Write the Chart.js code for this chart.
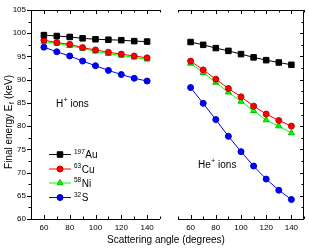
<!DOCTYPE html>
<html>
<head>
<meta charset="utf-8">
<script src="https://cdn.jsdelivr.net/npm/chart.js@4.4.1/dist/chart.umd.min.js"></script>
<style>
    body { margin: 0; background: #fff; }
    #wrap { position: relative; width: 309px; height: 251px; }
    #left { position: absolute; left: 0; top: 0; }
    #right { position: absolute; left: 165px; top: 0; }
</style>
</head>
<body>
<div id="wrap">
    <canvas id="left" width="309" height="251"></canvas>
    <canvas id="right" width="144" height="251"></canvas>
</div>
<script>
const angles = [60, 70, 80, 90, 100, 110, 120, 130, 140];

// H+ ions (left panel)
const hAu = [99.6, 99.4, 99.2, 98.9, 98.7, 98.6, 98.5, 98.3, 98.2];
const hCu = [98.5, 98.0, 97.6, 96.9, 96.4, 95.9, 95.5, 95.1, 94.7];
const hNi = [98.2, 97.8, 97.3, 96.7, 96.1, 95.6, 95.2, 94.8, 94.4];
const hS = [97.0, 96.0, 95.1, 94.0, 93.0, 92.0, 91.1, 90.3, 89.7];

// He+ ions (right panel)
const heAu = [98.1, 97.5, 96.8, 96.2, 95.5, 94.8, 94.2, 93.7, 93.2];
const heCu = [94.0, 92.1, 90.1, 88.1, 86.3, 84.3, 82.6, 81.2, 80.0];
const heNi = [93.5, 91.5, 89.4, 87.3, 85.3, 83.3, 81.3, 80.0, 78.5];
const heS = [88.3, 84.9, 81.4, 77.8, 74.5, 71.4, 68.6, 66.2, 64.2];

const xTicks = [60, 80, 100, 120, 140];
const yTicks = [60, 65, 70, 75, 80, 85, 90, 95, 100, 105];

const series = [
    { iso: "197", el: "Au", color: "#000000", edge: "#000000", style: "rect", r: 3.9 },
    { iso: "63", el: "Cu", color: "#ff0000", edge: "#c00000", style: "circle", r: 3 },
    { iso: "58", el: "Ni", color: "#00ff00", edge: "#00c000", style: "triangle", r: 3.5 },
    { iso: "32", el: "S", color: "#0000ff", edge: "#0000c0", style: "circle", r: 3 }
];

const FONT = "'Liberation Sans', Arial, sans-serif";

function makeDatasets(lists) {
    return lists.map((vals, i) => ({
        label: series[i].el,
        data: angles.map((a, j) => ({ x: a, y: vals[j] })),
        borderColor: series[i].color,
        backgroundColor: series[i].color,
        pointBorderColor: series[i].edge,
        pointBackgroundColor: series[i].color,
        pointStyle: series[i].style,
        pointRadius: series[i].r,
        pointBorderWidth: 1,
        borderWidth: 1,
        tension: 0
    }));
}

function supText(ctx, x, y, sup, main, size) {
    ctx.textAlign = "left";
    ctx.textBaseline = "alphabetic";
    ctx.font = (size * 0.65) + "px " + FONT;
    ctx.fillText(sup, x, y - size * 0.42);
    let w = ctx.measureText(sup).width;
    ctx.font = size + "px " + FONT;
    ctx.fillText(main, x + w + 0.5, y);
}

// frame and Origin style ticks
function framePlugin(sides) {
    return {
        id: "frame",
        afterDatasetsDraw(chart) {
            const ctx = chart.ctx;
            const a = chart.chartArea;
            const xs = chart.scales.x, ys = chart.scales.y;
            ctx.save();
            ctx.strokeStyle = "#000";
            ctx.lineWidth = 1;
            ctx.beginPath();
            ctx.moveTo(a.left, a.top + 0.5); ctx.lineTo(a.right, a.top + 0.5);
            ctx.moveTo(a.left, a.bottom + 0.5); ctx.lineTo(a.right, a.bottom + 0.5);
            if (sides.left) { ctx.moveTo(a.left + 0.5, a.top); ctx.lineTo(a.left + 0.5, a.bottom + 1); }
            if (sides.right) { ctx.moveTo(a.right - 0.5, a.top); ctx.lineTo(a.right - 0.5, a.bottom + 1); }
            for (let v = 50; v <= 150; v += 10) {
                const px = Math.round(xs.getPixelForValue(v)) + 0.5;
                const len = xTicks.includes(v) ? 4 : 2.5;
                ctx.moveTo(px, a.top); ctx.lineTo(px, a.top + len);
                ctx.moveTo(px, a.bottom); ctx.lineTo(px, a.bottom - len);
            }
            for (let v = 60; v <= 105; v += 2.5) {
                const py = Math.round(ys.getPixelForValue(v)) + 0.5;
                const len = v % 5 === 0 ? 4 : 2.5;
                if (sides.left) { ctx.moveTo(a.left, py); ctx.lineTo(a.left - len, py); }
                if (sides.right) { ctx.moveTo(a.right, py); ctx.lineTo(a.right - len, py); }
            }
            ctx.stroke();
            ctx.restore();
        }
    };
}

const textPlugin = {
    id: "texts",
    afterDraw(chart) {
        const ctx = chart.ctx;
        ctx.save();
        ctx.fillStyle = "#000";

        // y title
        ctx.save();
        ctx.translate(9, 122);
        ctx.rotate(-Math.PI / 2);
        const t1 = "Final energy E", t3 = " (keV)";
        ctx.font = "10px " + FONT;
        const w1 = ctx.measureText(t1).width;
        const w3 = ctx.measureText(t3).width;
        ctx.font = "6.5px " + FONT;
        const w2 = ctx.measureText("f").width + 1;
        let x0 = -(w1 + w2 + w3) / 2;
        ctx.textBaseline = "middle";
        ctx.textAlign = "left";
        ctx.font = "10px " + FONT;
        ctx.fillText(t1, x0, 0);
        ctx.font = "6.5px " + FONT;
        ctx.fillText("f", x0 + w1 + 0.5, 3);
        ctx.font = "10px " + FONT;
        ctx.fillText(t3, x0 + w1 + w2, 0);
        ctx.restore();

        // x title
        ctx.font = "10px " + FONT;
        ctx.textAlign = "center";
        ctx.textBaseline = "middle";
        ctx.fillText("Scattering angle (degrees)", 166, 240);

        // H+ ions
        ctx.textAlign = "left";
        ctx.textBaseline = "alphabetic";
        ctx.font = "10px " + FONT;
        ctx.fillText("H", 56, 107);
        let wh = ctx.measureText("H").width;
        ctx.font = "6.5px " + FONT;
        ctx.fillText("+", 56 + wh + 0.5, 102);
        ctx.font = "10px " + FONT;
        ctx.fillText(" ions", 56 + wh + 4.5, 107);

        // legend
        const rows = [154, 168.5, 182.5, 197];
        series.forEach((s, i) => {
            const y = rows[i];
            ctx.strokeStyle = s.color;
            ctx.lineWidth = 1;
            ctx.beginPath();
            ctx.moveTo(49, y + 0.5);
            ctx.lineTo(71, y + 0.5);
            ctx.stroke();
            ctx.fillStyle = s.color;
            ctx.strokeStyle = s.edge;
            Chart.helpers.drawPoint(ctx, { pointStyle: s.style, radius: s.r, rotation: 0, borderWidth: 1 }, 60, y + 0.5);
            ctx.fillStyle = "#000";
            supText(ctx, 74, y + 4, s.iso, s.el, 10);
        });
        ctx.restore();
    }
};

const heTextPlugin = {
    id: "heTexts",
    afterDraw(chart) {
        const ctx = chart.ctx;
        ctx.save();
        ctx.fillStyle = "#000";
        ctx.textAlign = "left";
        ctx.textBaseline = "alphabetic";
        ctx.font = "10px " + FONT;
        const x = 198 - 165;
        ctx.fillText("He", x, 168);
        let w = ctx.measureText("He").width;
        ctx.font = "6.5px " + FONT;
        ctx.fillText("+", x + w + 0.5, 163);
        ctx.font = "10px " + FONT;
        ctx.fillText(" ions", x + w + 4.5, 168);
        ctx.restore();
    }
};

function xScale() {
    return {
        type: "linear",
        min: 50,
        max: 150,
        afterBuildTicks: (s) => { s.ticks = xTicks.map(v => ({ value: v })); },
        afterFit: (s) => { s.height = 32; },
        grid: { display: false, drawTicks: false },
        border: { display: false },
        ticks: { padding: 4, color: "#000", font: { family: FONT, size: 8 }, maxRotation: 0, autoSkip: false }
    };
}

new Chart(document.getElementById("left"), {
    type: "line",
    data: { datasets: makeDatasets([hAu, hCu, hNi, hS]) },
    options: {
        responsive: false,
        animation: false,
        layout: { padding: { top: 10, right: 149, left: 0, bottom: 0 } },
        scales: {
            x: xScale(),
            y: {
                min: 60,
                max: 105,
                afterBuildTicks: (s) => { s.ticks = yTicks.map(v => ({ value: v })); },
                afterFit: (s) => { s.width = 31; },
                grid: { display: false, drawTicks: false },
                border: { display: false },
                ticks: { padding: 5, color: "#000", font: { family: FONT, size: 8 } }
            }
        },
        plugins: { legend: { display: false }, tooltip: { enabled: false } }
    },
    plugins: [framePlugin({ left: true, right: false }), textPlugin]
});

new Chart(document.getElementById("right"), {
    type: "line",
    data: { datasets: makeDatasets([heAu, heCu, heNi, heS]) },
    options: {
        responsive: false,
        animation: false,
        layout: { padding: { top: 10, right: 3, left: 13, bottom: 0 } },
        scales: {
            x: xScale(),
            y: { min: 60, max: 105, display: false }
        },
        plugins: { legend: { display: false }, tooltip: { enabled: false } }
    },
    plugins: [framePlugin({ left: false, right: true }), heTextPlugin]
});
</script>
</body>
</html>
